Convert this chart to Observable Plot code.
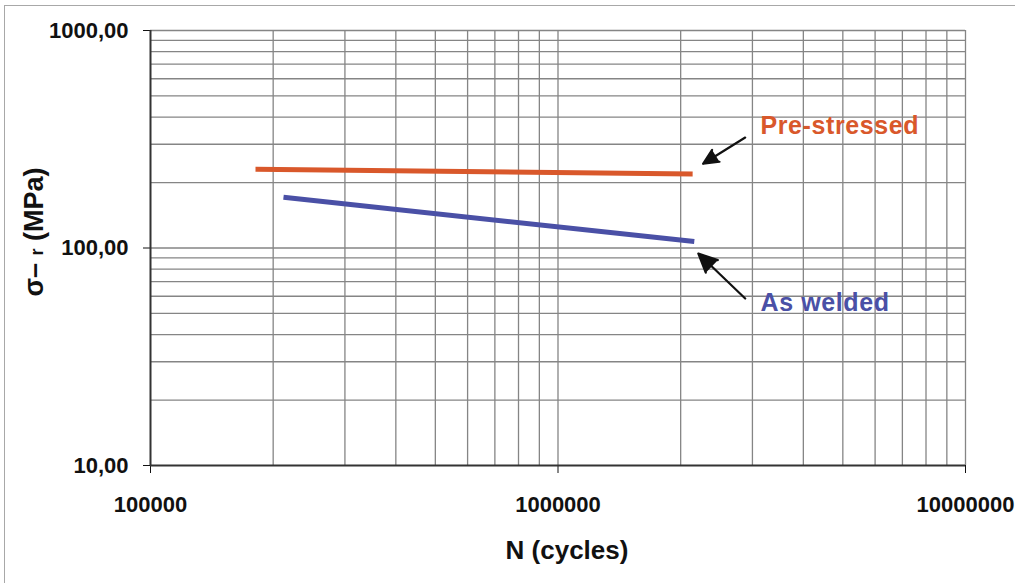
<!DOCTYPE html>
<html>
<head>
<meta charset="utf-8">
<script src="https://cdn.jsdelivr.net/npm/d3@7"></script>
<script src="https://cdn.jsdelivr.net/npm/@observablehq/plot@0.6"></script>
<style>
  html, body { margin: 0; padding: 0; background: #fff; }
  #wrap { position: relative; width: 1015px; height: 583px; overflow: hidden; }
  #frame { position: absolute; left: 4px; top: 5px; right: -2px; bottom: -2px;
           border-top: 1.5px solid #a8a8a8; border-left: 1.5px solid #a8a8a8; pointer-events: none; }
  svg { font-family: "Liberation Sans", Arial, Helvetica, sans-serif; }
</style>
</head>
<body>
<div id="wrap"><div id="frame"></div></div>
<script>
// ---- data ----
const xTicks = [1e5, 1e6, 1e7];
const xTickLabels = ["100000", "1000000", "10000000"];
const yTicks = [10, 100, 1000];
const yTickLabels = ["10,00", "100,00", "1000,00"];
const xGrid = [2e5, 3e5, 4e5, 5e5, 6e5, 7e5, 8e5, 9e5, 1e6, 2e6, 3e6, 4e6, 5e6, 6e6, 7e6, 8e6, 9e6, 1e7];
const yGrid = [20, 30, 40, 50, 60, 70, 80, 90, 100, 200, 300, 400, 500, 600, 700, 800, 900, 1000];

const preN = [1.81e5, 2.14e6];
const preS = [230, 219];
const weldN = [2.12e5, 2.16e6];
const weldS = [171, 107];

const seriesNames = ["Pre-stressed", "As welded"];
const labelN = [3.14e6, 3.14e6];
const labelS = [362, 56];
const arrowTailN = [2.88e6, 2.88e6];
const arrowTailS = [322, 58.6];
const arrowHeadN = [2.27e6, 2.21e6];
const arrowHeadS = [244, 94.3];

const xTitle = "N (cycles)";
const colors = ["#d9582b", "#4a50a6"];

// ---- build ----
const pre = preN.map((n, i) => ({n, s: preS[i]}));
const weld = weldN.map((n, i) => ({n, s: weldS[i]}));
const labels = seriesNames.map((t, i) => ({t, n: labelN[i], s: labelS[i], c: colors[i]}));
const arrows = seriesNames.map((t, i) => ({x1: arrowTailN[i], y1: arrowTailS[i], x2: arrowHeadN[i], y2: arrowHeadS[i]}));

const chart = Plot.plot({
  width: 1015,
  height: 583,
  marginLeft: 150,
  marginRight: 50,
  marginTop: 30,
  marginBottom: 118,
  style: {fontFamily: '"Liberation Sans", Arial, sans-serif', fontWeight: "bold", fontSize: "22px", color: "#111", background: "transparent", overflow: "visible"},
  x: {type: "log", domain: [1e5, 1e7], ticks: xTicks, tickFormat: d => xTickLabels[xTicks.indexOf(d)], tickSize: 8, tickPadding: 23, label: null},
  y: {type: "log", domain: [10, 1000], ticks: yTicks, tickFormat: d => yTickLabels[yTicks.indexOf(d)], tickSize: 7, tickPadding: 15, label: null},
  marks: [
    Plot.ruleX(xGrid, {stroke: "#858585", strokeWidth: 1.3}),
    Plot.ruleY(yGrid, {stroke: "#858585", strokeWidth: 1.3}),
    Plot.ruleX([1e5], {stroke: "#333", strokeWidth: 2}),
    Plot.ruleY([10], {stroke: "#333", strokeWidth: 2}),
    Plot.line(pre, {x: "n", y: "s", stroke: colors[0], strokeWidth: 5, strokeLinecap: "butt"}),
    Plot.line(weld, {x: "n", y: "s", stroke: colors[1], strokeWidth: 5, strokeLinecap: "butt"}),
    Plot.arrow(arrows, {x1: "x1", y1: "y1", x2: "x2", y2: "y2", stroke: "#111", fill: "#111", strokeWidth: 2.2, headLength: 14, headAngle: 50}),
    Plot.text(labels, {x: "n", y: "s", text: "t", fill: "c", textAnchor: "start", fontSize: 25, fontWeight: "bold", className: "serieslabel"}),
    Plot.text([xTitle], {frameAnchor: "bottom", text: d => d, dy: 93, dx: 9, fontSize: 26, fontWeight: "bold", fill: "#111"}),
    Plot.text(["y"], {frameAnchor: "left", textAnchor: "middle", text: d => d, rotate: -90, dx: -116, dy: -16, fontSize: 27, fontWeight: "bold", fill: "#111", className: "ytitle"})
  ]
});

document.getElementById("wrap").prepend(chart);

// y-axis title with a smaller "r"
const t = d3.select(chart).select(".ytitle text");
t.text(null);
t.append("tspan").text("σ");
t.append("tspan").text("– ");
t.append("tspan").attr("font-size", 18).text("r");
t.append("tspan").text(" (MPa)");
// series labels slightly wider, like the reference
d3.select(chart).selectAll(".serieslabel text").attr("letter-spacing", "0.6px");
// arrows: fill only closes the head
d3.select(chart).selectAll("g[aria-label=arrow] path").attr("fill", "#111");
</script>
</body>
</html>
